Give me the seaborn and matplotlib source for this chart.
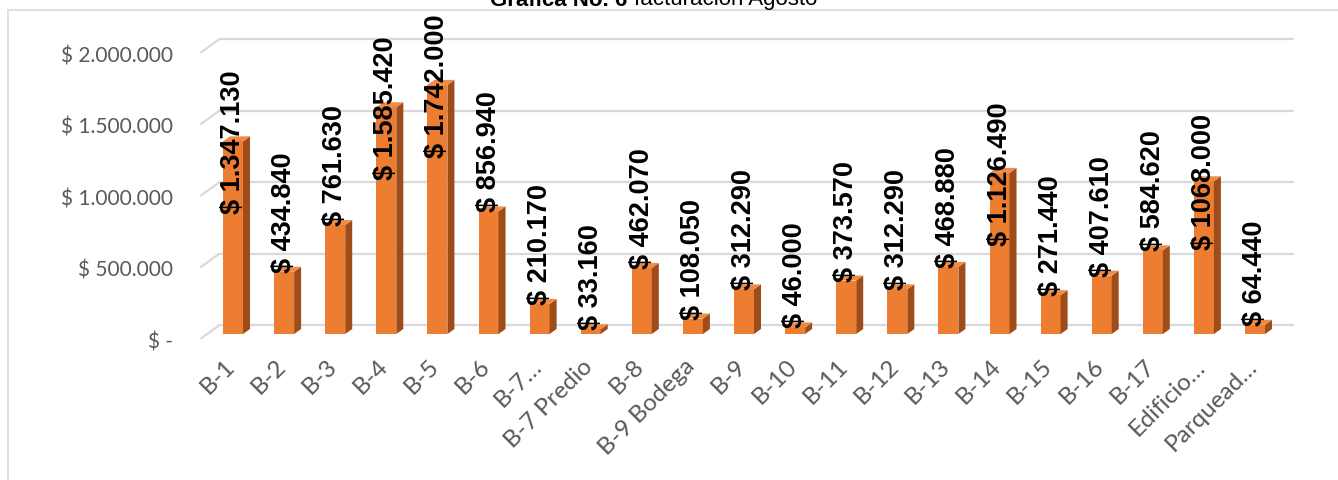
import matplotlib
matplotlib.use("Agg")
import matplotlib.pyplot as plt
from matplotlib.patches import Polygon
from matplotlib.lines import Line2D
from matplotlib.transforms import ScaledTranslation
import seaborn as sns
import pandas as pd

categories = ["B-1", "B-2", "B-3", "B-4", "B-5", "B-6", "B-7\u2026", "B-7 Predio", "B-8",
              "B-9 Bodega", "B-9", "B-10", "B-11", "B-12", "B-13", "B-14", "B-15", "B-16",
              "B-17", "Edificio\u2026", "Parquead\u2026"]
values = [1347130, 434840, 761630, 1585420, 1742000, 856940, 210170, 33160, 462070,
          108050, 312290, 46000, 373570, 312290, 468880, 1126490, 271440, 407610,
          584620, 1068000, 64440]
value_labels = ["$ 1.347.130", "$ 434.840", "$ 761.630", "$ 1.585.420", "$ 1.742.000",
                "$ 856.940", "$ 210.170", "$ 33.160", "$ 462.070", "$ 108.050",
                "$ 312.290", "$ 46.000", "$ 373.570", "$ 312.290", "$ 468.880",
                "$ 1.126.490", "$ 271.440", "$ 407.610", "$ 584.620", "$ 1068.000",
                "$ 64.440"]
y_ticks = [0, 500000, 1000000, 1500000, 2000000]
y_tick_labels = ["$ -", "$ 500.000", "$ 1.000.000", "$ 1.500.000", "$ 2.000.000"]
title_bold = "Grafica No. 6"
title_rest = "facturación Agosto"

W, H = 1338, 481
DPI = 100
sns.set_theme(style="white")
plt.rcParams['font.family'] = ['Liberation Sans', 'DejaVu Sans']

fig = plt.figure(figsize=(W / DPI, H / DPI), dpi=DPI)
fig.patch.set_facecolor("white")

# axes geometry in pixels
L, R = 207.5, 207.5 + 21 * 51.1
B, T = 335, 13
ax = fig.add_axes([L / W, 1 - B / H, (R - L) / W, (B - T) / H])
ymax = (B - T) / 143.0 * 1e6
px_x = (R - L) / 21.0
px_y = 143.0 / 1e6

df = pd.DataFrame({"cat": categories, "val": values})
front = "#ED7D31"
side = "#9E4D1A"
topc = "#F08A44"
sns.barplot(data=df, x="cat", y="val", color=front, saturation=1, width=0.39,
            ax=ax, zorder=3, linewidth=0)
ax.set_xlim(-0.5, 20.5)
ax.set_ylim(0, ymax)
ax.set_xlabel("")
ax.set_ylabel("")
for s in ax.spines.values():
    s.set_visible(False)
ax.set_facecolor("none")

# 3D faces
dxp, dyp = 7.0, 5.0
ddx = dxp / px_x
ddy = dyp / px_y
for p in list(ax.patches):
    x0 = p.get_x()
    x1 = x0 + p.get_width()
    v = p.get_height()
    ax.add_patch(Polygon([(x1, 0), (x1 + ddx, ddy), (x1 + ddx, v + ddy), (x1, v)],
                         closed=True, facecolor=side, edgecolor="none", zorder=3))
    ax.add_patch(Polygon([(x0, v), (x1, v), (x1 + ddx, v + ddy), (x0 + ddx, v + ddy)],
                         closed=True, facecolor=topc, edgecolor="none", zorder=3))

# back-wall gridlines with diagonal to front
back = ax.transData + ScaledTranslation(12 / DPI, 9 / DPI, fig.dpi_scale_trans)
grid_c = "#D9D9D9"
for yv in y_ticks:
    ax.add_line(Line2D([-0.5, 20.5], [yv, yv], transform=back, color=grid_c,
                       lw=1.6, zorder=1, clip_on=False))
    x_back = L + 12
    y_back_pix = H - (B - yv * px_y - 9)
    fig.add_artist(Line2D([(L - 6.5) / W, x_back / W],
                          [(y_back_pix - 13.5) / H, y_back_pix / H],
                          color=grid_c, lw=1.6, zorder=1))

# y ticks
ax.set_yticks(y_ticks)
ax.set_yticklabels(y_tick_labels)
ax.tick_params(axis="y", length=0, pad=24.5, labelsize=15, labelcolor="#595959")
for lab in ax.get_yticklabels():
    lab.set_fontfamily(["Lato", "DejaVu Sans"])
    lab.set_transform(lab.get_transform() + ScaledTranslation(0, -5.5 / DPI, fig.dpi_scale_trans))

# x ticks
ax.tick_params(axis="x", length=0, pad=15, labelsize=17.5, labelcolor="#595959")
ax.set_xticks(range(len(categories)))
ax.set_xticklabels(categories, rotation=45, ha="right", va="top", rotation_mode="anchor")
for lab in ax.get_xticklabels():
    lab.set_fontfamily(["Lato", "DejaVu Sans"])
    lab.set_transform(lab.get_transform() + ScaledTranslation(-9 / DPI, 0, fig.dpi_scale_trans))

# data labels
texts = []
for i, (v, s) in enumerate(zip(values, value_labels)):
    t = ax.text(i, v, s, rotation=90, ha="center", va="bottom", fontsize=19.5,
                fontweight="bold", color="black", zorder=5)
    texts.append(t)
fig.canvas.draw()
rend = fig.canvas.get_renderer()
for i, (t, v) in enumerate(zip(texts, values)):
    bb = t.get_window_extent(rend)
    Ld = bb.height / px_y
    if v + Ld <= 1.9e6:
        bottom = v
    else:
        bottom = v - 0.5 * Ld
    t.set_position((i, bottom))

# title (partly cut at the top as in the reference)
fig.text(627 / W, 1 - 5.5 / H, title_bold, ha="right", va="baseline", fontsize=16,
         fontweight="bold", color="black")
fig.text(634 / W, 1 - 5.5 / H, title_rest, ha="left", va="baseline", fontsize=16,
         color="black")

# chart border
fig.add_artist(Line2D([8 / W, 8 / W], [0, 1 - 11 / H], color="#D9D9D9", lw=1.2))
fig.add_artist(Line2D([8 / W, 1], [1 - 11 / H, 1 - 11 / H], color="#D9D9D9", lw=1.2))

fig.savefig("out.png", dpi=DPI, facecolor="white")
